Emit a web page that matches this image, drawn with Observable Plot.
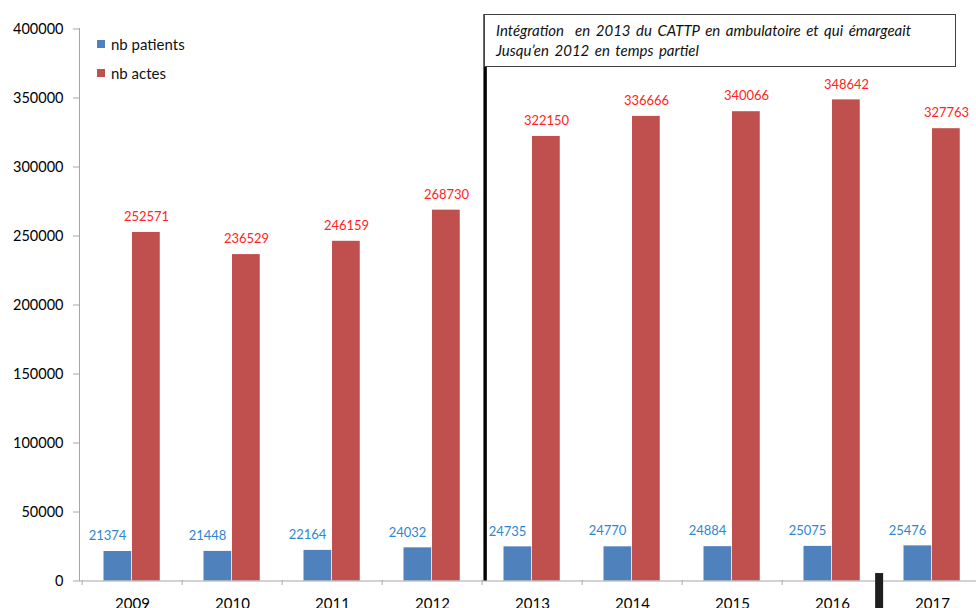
<!DOCTYPE html>
<html><head><meta charset="utf-8">
<script src="https://cdn.jsdelivr.net/npm/d3@7"></script>
<script src="https://cdn.jsdelivr.net/npm/@observablehq/plot@0.6"></script>
<style>
body{margin:0;background:#fff;font-family:Lato,"Open Sans",sans-serif;}
#wrap{position:relative;width:976px;height:608px;overflow:hidden;}
#wrap svg{position:absolute;left:0;top:0;}
.note{position:absolute;left:484px;top:14px;width:472px;height:53px;border:1px solid #404040;box-sizing:border-box;background:#fff;
  font-style:italic;font-size:15px;line-height:20px;padding:5px 0 0 11px;color:#111;word-spacing:2px;}
.leg{position:absolute;left:97px;font-size:15px;color:#111;line-height:16px;display:flex;align-items:center;}
.leg span.sw{display:inline-block;width:8px;height:8px;margin-right:6px;}
</style></head><body><div id="wrap"></div>
<script>
const years = ["2009","2010","2011","2012","2013","2014","2015","2016","2017"];
const patients = [21374,21448,22164,24032,24735,24770,24884,25075,25476];
const actes = [252571,236529,246159,268730,322150,336666,340066,348642,327763];
const yTicks = [0,50000,100000,150000,200000,250000,300000,350000,400000];
const seriesNames = ["nb patients","nb actes"];
const seriesColors = ["#4f81bd","#c0504d"];
const labelColors = ["#2e86d1","#ff2323"];
const noteLines = ["Intégration  en 2013 du CATTP en ambulatoire et qui émargeait","Jusqu’en 2012 en temps partiel"];
const noteYear = "2013";
const markerYear = "2017";

const step = 100.75, x0 = 79;
const pData = years.map((y,i)=>({year:y, value:patients[i]}));
const aData = years.map((y,i)=>({year:y, value:actes[i]}));

const plot = Plot.plot({
  width:976, height:608, marginLeft:79, marginRight:0, marginTop:28, marginBottom:28,
  style:{fontFamily:"Lato, sans-serif", fontSize:"14px", color:"#000", background:"transparent", overflow:"visible"},
  x:{type:"band", domain:years, range:[x0, x0+step*years.length], padding:0},
  y:{domain:[0,400000], range:[580.5,28.5]},
  marks:[
    Plot.barY(pData,{x:"year", y:"value", fill:seriesColors[0], insetLeft:21.5, insetRight:50.75}),
    Plot.barY(aData,{x:"year", y:"value", fill:seriesColors[1], insetLeft:50, insetRight:22.25}),
    Plot.text(pData,{x:"year", y:"value", text:d=>String(d.value), dx:-25, dy:-15.5, fill:labelColors[0], fontSize:13}),
    Plot.text(aData,{x:"year", y:"value", text:d=>String(d.value), dx:14, dy:-15.5, fill:labelColors[1], fontSize:13}),
    Plot.ruleY([0],{stroke:"#a6a6a6"}),
    Plot.frame({anchor:"left", stroke:"#a6a6a6"}),
    Plot.axisY({ticks:yTicks, tickSize:6, tickPadding:10, tickFormat:d=>String(d), stroke:"#a6a6a6", fill:"#000", fontSize:14.5, label:null}),
    Plot.axisX({tickSize:0, tickPadding:18, fill:"#000", fontSize:15, label:null}),
    Plot.axisX({tickSize:5, dx:-step/2, tickFormat:()=>"", stroke:"#a6a6a6", label:null}),
    Plot.ruleX([noteYear],{x:d=>d, dx:-step/2+3, y1:0, y2:410500, stroke:"#000", strokeWidth:3.4}),
    Plot.ruleX([markerYear],{x:d=>d, dx:-step/2-3, y1:5400, y2:-20000, stroke:"#1e1e1e", strokeWidth:8})
  ]
});
const wrap = document.getElementById("wrap");
wrap.appendChild(plot);

const note = document.createElement("div");
note.className = "note";
note.innerHTML = noteLines.map(s=>s.replace(/ {2}/g," &nbsp;")).join("<br>");
wrap.appendChild(note);

seriesNames.forEach((n,i)=>{
  const d = document.createElement("div");
  d.className = "leg";
  d.style.top = (36 + i*29) + "px";
  d.innerHTML = `<span class="sw" style="background:${seriesColors[i]}"></span>${n}`;
  wrap.appendChild(d);
});
</script>
</body></html>
